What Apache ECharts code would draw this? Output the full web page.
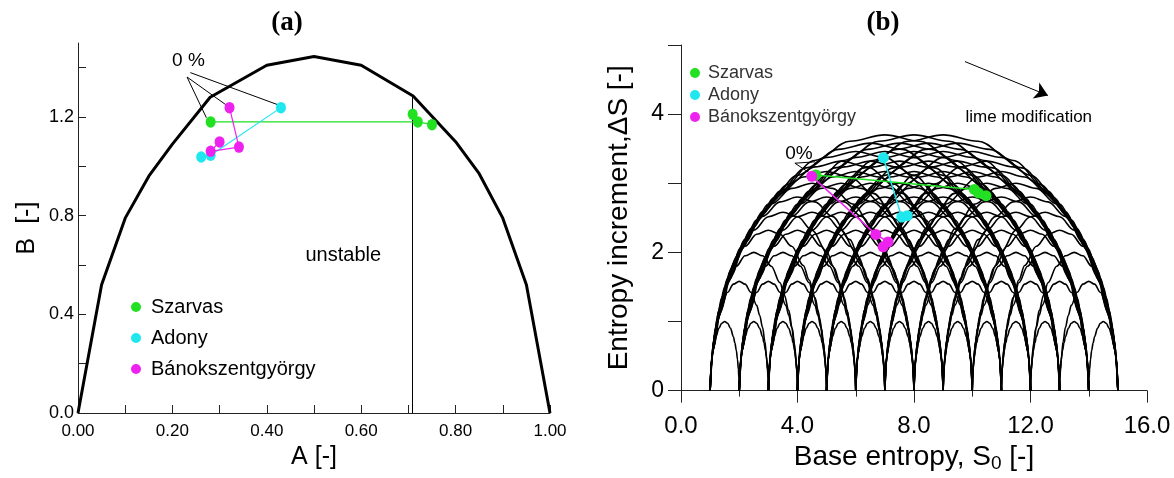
<!DOCTYPE html>
<html>
<head>
<meta charset="utf-8">
<script src="https://cdn.jsdelivr.net/npm/echarts@6/dist/echarts.min.js"></script>
<style>
  html, body { margin: 0; background: #fff; }
  #c { width: 1174px; height: 478px; }
</style>
</head>
<body>
<div id="c"></div>
<script>
// ---------- panel (a): A–B diagram ----------
const limitA = [0, 0.05, 0.10, 0.15, 0.20, 0.28, 0.40, 0.50, 0.60, 0.71, 0.80, 0.85, 0.90, 0.95, 1.00];
const limitB = [0, 0.52, 0.79, 0.96, 1.09, 1.28, 1.41, 1.445, 1.41, 1.285, 1.10, 0.97, 0.79, 0.52, 0];

const szarvasA = [0.281, 0.72, 0.75];
const szarvasB = [1.18, 1.18, 1.169];
const szarvasExtraA = [0.709];
const szarvasExtraB = [1.211];
const adonyA = [0.43, 0.281, 0.261];
const adonyB = [1.238, 1.045, 1.038];
const banokA = [0.321, 0.341, 0.281, 0.30];
const banokB = [1.238, 1.078, 1.061, 1.099];

const stableLimitA = 0.709;   // vertical line
const stableLimitB = 1.284;

const ticksA_B = [0, 0.2, 0.4, 0.6, 0.8, 1.0, 1.2, 1.4];
const labelsA_B = [0, 0.4, 0.8, 1.2];

// ---------- panel (b): entropy diagram ----------
const arcFeet = [1, 2, 3, 4, 5, 6, 7, 8, 9, 10, 11, 12, 13, 14, 15];
const arcPeaks = [1.0, 1.58, 2.0, 2.32, 2.58, 2.8, 3.0, 3.17, 3.32, 3.46, 3.58, 3.7]; // by span 1..12
const arcProfileT = [0, 0.01, 0.03, 0.06, 0.10, 0.15, 0.20, 0.30, 0.40, 0.50];
const arcProfileH = [0, 0.17, 0.31, 0.45, 0.58, 0.69, 0.78, 0.90, 0.975, 1.0];

const szarvasS0 = [4.63, 10.07, 10.21, 10.47];
const szarvasDS = [3.12, 2.91, 2.86, 2.82];
const adonyS0 = [6.95, 7.58, 7.77];
const adonyDS = [3.37, 2.51, 2.53];
const banokS0 = [4.49, 6.69, 7.11, 6.94];
const banokDS = [3.10, 2.26, 2.15, 2.08];

const ticksDS = [0, 1, 2, 3, 4, 5];
const labelsDS = [0, 2, 4];

const siteNames = ['Szarvas', 'Adony', 'Bánokszentgyörgy'];
const siteColors = ['#22e022', '#1ee8ee', '#ee22ee'];

const SANS = "'Liberation Sans', Arial, sans-serif";
const AXIS = { color: '#222', width: 1 };

const zip = (xs, ys) => xs.map((x, i) => [x, ys[i]]);

// family of maximum-entropy arcs, built from the read profile
const arcSeries = [];
for (const a of arcFeet) {
  for (let d = 1; d <= arcPeaks.length; d++) {
    const b = a + d;
    if (b > arcFeet[arcFeet.length - 1]) break;
    const pk = arcPeaks[d - 1];
    const pts = arcProfileT.map((t, i) => [a + t * d, pk * arcProfileH[i]]);
    for (let i = arcProfileT.length - 2; i >= 0; i--) {
      pts.push([b - arcProfileT[i] * d, pk * arcProfileH[i]]);
    }
    arcSeries.push({
      type: 'line', xAxisIndex: 1, yAxisIndex: 1, data: pts,
      showSymbol: false, smooth: 0.35, smoothMonotone: 'x', silent: true,
      lineStyle: { color: '#000', width: 1.6 }, z: 1,
    });
  }
}

function site(name, color, data, axis, sym, lw) {
  return {
    name, type: 'line', xAxisIndex: axis, yAxisIndex: axis, data,
    symbol: 'circle', symbolSize: sym, showSymbol: true,
    itemStyle: { color, opacity: 1 }, lineStyle: { color, width: lw }, z: 5,
  };
}

function note(text, pos, axis, size, where) {
  return {
    type: 'scatter', xAxisIndex: axis, yAxisIndex: axis, data: [pos],
    symbolSize: 1, itemStyle: { color: 'rgba(0,0,0,0)', opacity: 1 }, silent: true, z: 6,
    label: {
      show: true, position: where || 'inside', distance: 0, formatter: text,
      fontSize: size, fontFamily: SANS, color: '#000', textBorderWidth: 0,
    },
  };
}

const option = {
  backgroundColor: '#fff',
  animation: false,
  graphic: [
    { type: 'text', x: 287, y: 23, style: { text: '(a)', font: 'bold 27px "Liberation Serif", serif', textAlign: 'center', textVerticalAlign: 'middle', fill: '#000' } },
    { type: 'text', x: 883, y: 23, style: { text: '(b)', font: 'bold 27px "Liberation Serif", serif', textAlign: 'center', textVerticalAlign: 'middle', fill: '#000' } },
  ],
  grid: [
    { left: 78, top: 43, width: 472, height: 370 },
    { left: 681, top: 45, width: 466, height: 351 },
  ],
  legend: [
    {
      data: siteNames, orient: 'vertical', left: 131, top: 297, padding: 0,
      itemGap: 11, itemWidth: 10, itemHeight: 12, icon: 'circle',
      textStyle: { fontFamily: SANS, fontSize: 20, color: '#000', padding: [0, 0, 0, 5] },
    },
    {
      data: siteNames, orient: 'vertical', left: 690, top: 64, padding: 0,
      itemGap: 4, itemWidth: 10, itemHeight: 10, icon: 'circle',
      textStyle: { fontFamily: SANS, fontSize: 18, color: '#333', padding: [0, 0, 0, 3] },
    },
  ],
  xAxis: [
    {
      gridIndex: 0, type: 'value', min: 0, max: 1, interval: 0.2,
      axisLine: { lineStyle: AXIS },
      axisTick: { inside: true, length: 8, lineStyle: AXIS },
      minorTick: { show: true, splitNumber: 2, length: 8, lineStyle: AXIS },
      splitLine: { show: false }, minorSplitLine: { show: false },
      axisLabel: { formatter: (v) => v.toFixed(2), fontFamily: SANS, fontSize: 17, color: '#000', margin: 10 },
      name: 'A [-]', nameLocation: 'middle', nameGap: 30,
      nameTextStyle: { fontFamily: SANS, fontSize: 25, color: '#000' },
    },
    {
      gridIndex: 1, type: 'value', min: 0, max: 16, interval: 4,
      axisLine: { lineStyle: AXIS },
      axisTick: { length: 12, lineStyle: AXIS },
      minorTick: { show: true, splitNumber: 2, length: 6, lineStyle: AXIS },
      splitLine: { show: false }, minorSplitLine: { show: false },
      axisLabel: { formatter: (v) => v.toFixed(1), fontFamily: SANS, fontSize: 24, color: '#000', margin: 24 },
      name: 'Base entropy, S{sub|0} [-]', nameLocation: 'middle', nameGap: 48,
      nameTextStyle: {
        fontFamily: SANS, fontSize: 28, color: '#000',
        rich: { sub: { fontFamily: SANS, fontSize: 19, verticalAlign: 'bottom', padding: [12, 0, 0, 0] } },
      },
    },
  ],
  yAxis: [
    {
      gridIndex: 0, type: 'value', min: 0, max: 1.5,
      axisLine: { show: true, lineStyle: AXIS },
      axisTick: { show: true, inside: true, length: 8, lineStyle: AXIS, customValues: ticksA_B },
      splitLine: { show: false },
      axisLabel: { customValues: labelsA_B, formatter: (v) => v.toFixed(1), fontFamily: SANS, fontSize: 18, color: '#000', margin: 4 },
      name: 'B  [-]', nameLocation: 'middle', nameGap: 38,
      nameTextStyle: { fontFamily: SANS, fontSize: 25, color: '#000' },
    },
    {
      gridIndex: 1, type: 'value', min: 0, max: 5,
      axisLine: { show: true, lineStyle: AXIS },
      axisTick: { show: true, length: 13, lineStyle: AXIS, customValues: ticksDS },
      splitLine: { show: false },
      axisLabel: { customValues: labelsDS, fontFamily: SANS, fontSize: 23, color: '#000', margin: 17 },
      name: 'Entropy increment,ΔS [-]', nameLocation: 'middle', nameGap: 48,
      nameTextStyle: { fontFamily: SANS, fontSize: 28, color: '#000' },
    },
  ],
  series: [
    // (a)
    {
      type: 'line', xAxisIndex: 0, yAxisIndex: 0, data: zip(limitA, limitB),
      showSymbol: false, silent: true, lineStyle: { color: '#000', width: 3 }, z: 2,
    },
    {
      type: 'lines', coordinateSystem: 'cartesian2d', xAxisIndex: 0, yAxisIndex: 0, silent: true,
      lineStyle: { color: '#000', width: 1, opacity: 1 }, z: 3,
      data: [
        { coords: [[stableLimitA, 0], [stableLimitA, stableLimitB]] },
        { coords: [[0.231, 1.362], [0.272, 1.197]] },
        { coords: [[0.231, 1.362], [0.313, 1.25]] },
        { coords: [[0.238, 1.38], [0.4216, 1.251]] },
      ],
    },
    site(siteNames[0], siteColors[0], zip(szarvasA, szarvasB), 0, [10, 11.5], 1.2),
    { ...site(siteNames[0], siteColors[0], zip(szarvasExtraA, szarvasExtraB), 0, [10, 11.5], 1.2), type: 'scatter' },
    site(siteNames[1], siteColors[1], zip(adonyA, adonyB), 0, [10, 11.5], 1.2),
    site(siteNames[2], siteColors[2], zip(banokA, banokB), 0, [10, 11.5], 1.2),
    note('0 %', [0.234, 1.43], 0, 19),
    note('unstable', [0.562, 0.638], 0, 20),
    // (b)
    ...arcSeries,
    {
      type: 'lines', coordinateSystem: 'cartesian2d', xAxisIndex: 1, yAxisIndex: 1, silent: true,
      lineStyle: { color: '#000', width: 1, opacity: 1 }, z: 3,
      data: [
        { coords: [[3.91, 3.29], [4.6, 3.31]] },
        { coords: [[3.91, 3.29], [4.45, 3.14]] },
      ],
    },
    {
      type: 'lines', coordinateSystem: 'cartesian2d', xAxisIndex: 1, yAxisIndex: 1, silent: true,
      symbol: ['none', 'arrow'], symbolSize: 13,
      lineStyle: { color: '#000', width: 1, opacity: 1 }, z: 3,
      data: [{ coords: [[9.75, 4.76], [12.6, 4.27]] }],
    },
    site(siteNames[0], siteColors[0], zip(szarvasS0, szarvasDS), 1, 11, 1.5),
    site(siteNames[1], siteColors[1], zip(adonyS0, adonyDS), 1, 11, 1.5),
    site(siteNames[2], siteColors[2], zip(banokS0, banokDS), 1, 11, 1.5),
    note('0%', [4.05, 3.42], 1, 19),
    note('lime modification', [9.75, 3.95], 1, 17, 'right'),
  ],
};

const chart = echarts.init(document.getElementById('c'), null, { renderer: 'canvas' });
chart.setOption(option);
</script>
</body>
</html>
